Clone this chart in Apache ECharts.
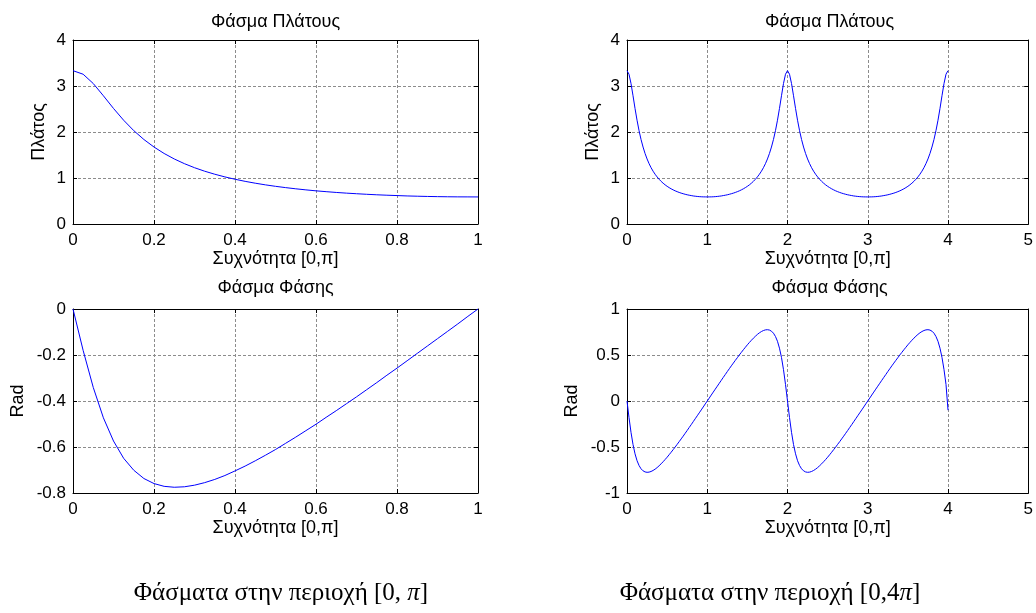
<!DOCTYPE html>
<html>
<head>
<meta charset="utf-8">
<script src="https://cdn.jsdelivr.net/npm/echarts@6/dist/echarts.min.js"></script>
<style>
html,body{margin:0;padding:0;background:#fff;}
#chart{width:1036px;height:613px;}
</style>
</head>
<body>
<div id="chart"></div>
<script>
// ---- data ----
// Left plots: frequency in units of π, 0..1 step 0.025
const leftMag = [3.333,3.256,3.054,2.788,2.512,2.256,2.030,1.837,1.673,1.533,1.414,1.312,1.224,1.148,1.082,1.024,0.973,0.927,0.887,0.851,0.819,0.791,0.765,0.742,0.721,0.703,0.686,0.671,0.658,0.646,0.635,0.626,0.618,0.610,0.604,0.599,0.595,0.592,0.590,0.589,0.588];
const leftPhase = [0,-0.180,-0.341,-0.473,-0.574,-0.649,-0.701,-0.737,-0.759,-0.771,-0.775,-0.773,-0.766,-0.755,-0.741,-0.724,-0.704,-0.683,-0.660,-0.636,-0.611,-0.584,-0.557,-0.529,-0.501,-0.471,-0.442,-0.412,-0.382,-0.351,-0.320,-0.288,-0.257,-0.225,-0.193,-0.161,-0.129,-0.097,-0.065,-0.032,0];
// Right plots: frequency in units of π, 0..4 step 0.025
const rightMag = [
3.333,3.256,3.054,2.788,2.512,2.256,2.030,1.837,1.673,1.533,1.414,1.312,1.224,1.148,1.082,1.024,0.973,0.927,0.887,0.851,0.819,0.791,0.765,0.742,0.721,0.703,0.686,0.671,0.658,0.646,0.635,0.626,0.618,0.610,0.604,0.599,0.595,0.592,0.590,0.589,0.588,
0.589,0.590,0.592,0.595,0.599,0.604,0.610,0.618,0.626,0.635,0.646,0.658,0.671,0.686,0.703,0.721,0.742,0.765,0.791,0.819,0.851,0.887,0.927,0.973,1.024,1.082,1.148,1.224,1.312,1.414,1.533,1.673,1.837,2.030,2.256,2.512,2.788,3.054,3.256,3.333,
3.256,3.054,2.788,2.512,2.256,2.030,1.837,1.673,1.533,1.414,1.312,1.224,1.148,1.082,1.024,0.973,0.927,0.887,0.851,0.819,0.791,0.765,0.742,0.721,0.703,0.686,0.671,0.658,0.646,0.635,0.626,0.618,0.610,0.604,0.599,0.595,0.592,0.590,0.589,0.588,
0.589,0.590,0.592,0.595,0.599,0.604,0.610,0.618,0.626,0.635,0.646,0.658,0.671,0.686,0.703,0.721,0.742,0.765,0.791,0.819,0.851,0.887,0.927,0.973,1.024,1.082,1.148,1.224,1.312,1.414,1.533,1.673,1.837,2.030,2.256,2.512,2.788,3.054,3.256,3.333];
const rightPhase = [
0,-0.180,-0.341,-0.473,-0.574,-0.649,-0.701,-0.737,-0.759,-0.771,-0.775,-0.773,-0.766,-0.755,-0.741,-0.724,-0.704,-0.683,-0.660,-0.636,-0.611,-0.584,-0.557,-0.529,-0.501,-0.471,-0.442,-0.412,-0.382,-0.351,-0.320,-0.288,-0.257,-0.225,-0.193,-0.161,-0.129,-0.097,-0.065,-0.032,0,
0.032,0.065,0.097,0.129,0.161,0.193,0.225,0.257,0.288,0.320,0.351,0.382,0.412,0.442,0.471,0.501,0.529,0.557,0.584,0.611,0.636,0.660,0.683,0.704,0.724,0.741,0.755,0.766,0.773,0.775,0.771,0.759,0.737,0.701,0.649,0.574,0.473,0.341,0.180,0,
-0.180,-0.341,-0.473,-0.574,-0.649,-0.701,-0.737,-0.759,-0.771,-0.775,-0.773,-0.766,-0.755,-0.741,-0.724,-0.704,-0.683,-0.660,-0.636,-0.611,-0.584,-0.557,-0.529,-0.501,-0.471,-0.442,-0.412,-0.382,-0.351,-0.320,-0.288,-0.257,-0.225,-0.193,-0.161,-0.129,-0.097,-0.065,-0.032,0,
0.032,0.065,0.097,0.129,0.161,0.193,0.225,0.257,0.288,0.320,0.351,0.382,0.412,0.442,0.471,0.501,0.529,0.557,0.584,0.611,0.636,0.660,0.683,0.704,0.724,0.741,0.755,0.766,0.773,0.775,0.771,0.759,0.737,0.701,0.649,0.574,0.473,0.341,0.180,-0.1];
const leftStep = 0.025, rightStep = 0.025;

const titleMag = 'Φάσμα Πλάτους';
const titlePhase = 'Φάσμα Φάσης';
const xName = 'Συχνότητα [0,π]';
const yNameMag = 'Πλάτος';
const yNamePhase = 'Rad';
const captionLeft = ['Φάσματα στην περιοχή [0, ', 'π', ']'];
const captionRight = ['Φάσματα στην περιοχή [0,4', 'π', ']'];

// ---- chart ----
const FONT = 'Liberation Sans, Arial, sans-serif';
const TICK_FS = 17, NAME_FS = 18, TITLE_FS = 18;

const grids = [
  {left:73, top:40, width:405, height:184},
  {left:73, top:309, width:405, height:184},
  {left:627, top:40, width:405, height:184},
  {left:627, top:309, width:405, height:184}
];
const axisSpec = [
  {xmin:0, xmax:1, xint:0.2, ymin:0, ymax:4, yint:1, yname:yNameMag, ygap:25, title:titleMag},
  {xmin:0, xmax:1, xint:0.2, ymin:-0.8, ymax:0, yint:0.2, yname:yNamePhase, ygap:46, title:titlePhase},
  {xmin:0, xmax:5, xint:1, ymin:0, ymax:4, yint:1, yname:yNameMag, ygap:25, title:titleMag},
  {xmin:0, xmax:5, xint:1, ymin:-1, ymax:1, yint:0.5, yname:yNamePhase, ygap:46, title:titlePhase}
];
const fmt = v => String(Math.round(v*100)/100);
const lineBlack = {show:true, onZero:false, lineStyle:{color:'#000', width:1}};
const tickIn = {show:true, inside:true, length:4, lineStyle:{color:'#000', width:1}};
const gridLine = {show:true, lineStyle:{color:'#8c8c8c', width:1, type:[3,2]}};

const xAxes = [], yAxes = [];
axisSpec.forEach((s, i) => {
  xAxes.push({type:'value', gridIndex:i, position:'bottom', min:s.xmin, max:s.xmax, interval:s.xint,
    axisLine:lineBlack, axisTick:tickIn, splitLine:gridLine,
    axisLabel:{color:'#000', fontSize:TICK_FS, fontFamily:FONT, margin:8, formatter:fmt},
    name:xName, nameLocation:'middle', nameGap:26,
    nameTextStyle:{color:'#000', fontSize:NAME_FS, fontFamily:FONT}});
  xAxes.push({type:'value', gridIndex:i, position:'top', min:s.xmin, max:s.xmax, interval:s.xint,
    axisLine:lineBlack, axisTick:tickIn, splitLine:{show:false}, axisLabel:{show:false}});
  yAxes.push({type:'value', gridIndex:i, position:'left', min:s.ymin, max:s.ymax, interval:s.yint,
    axisLine:lineBlack, axisTick:tickIn, splitLine:gridLine,
    axisLabel:{color:'#000', fontSize:TICK_FS, fontFamily:FONT, margin:7, formatter:fmt},
    name:s.yname, nameLocation:'middle', nameRotate:90, nameGap:s.ygap,
    nameTextStyle:{color:'#000', fontSize:NAME_FS, fontFamily:FONT}});
  yAxes.push({type:'value', gridIndex:i, position:'right', min:s.ymin, max:s.ymax, interval:s.yint,
    axisLine:lineBlack, axisTick:tickIn, splitLine:{show:false}, axisLabel:{show:false}});
});

const toPairs = (arr, step) => arr.map((v, k) => [k*step, v]);
const seriesData = [toPairs(leftMag, leftStep), toPairs(leftPhase, leftStep), toPairs(rightMag, rightStep), toPairs(rightPhase, rightStep)];
const series = seriesData.map((d, i) => ({
  type:'line', xAxisIndex:2*i, yAxisIndex:2*i, data:d, showSymbol:false, symbol:'none',
  lineStyle:{color:'#0000ff', width:1}, clip:false, animation:false
}));

const graphics = [];
grids.forEach((g, i) => {
  graphics.push({type:'text', x:g.left + g.width/2, y:(i%2===0) ? 22 : 288,
    style:{text:axisSpec[i].title, fill:'#000', font:TITLE_FS+'px '+FONT, textAlign:'center', textVerticalAlign:'middle'}});
});
function caption(parts, cx) {
  return {type:'text', x:cx, y:593, style:{
    text:'{a|'+parts[0]+'}{b|'+parts[1]+'}{a|'+parts[2]+'}',
    textAlign:'center', textVerticalAlign:'middle',
    rich:{a:{fontFamily:'Liberation Serif, serif', fontSize:25, fill:'#000', color:'#000'},
          b:{fontFamily:'Liberation Serif, serif', fontSize:25, fontStyle:'italic', fill:'#000', color:'#000'}}
  }};
}
graphics.push(caption(captionLeft, 281));
graphics.push(caption(captionRight, 770));

const chart = echarts.init(document.getElementById('chart'), null, {renderer:'canvas'});
chart.setOption({
  animation:false,
  backgroundColor:'#fff',
  grid:grids,
  xAxis:xAxes,
  yAxis:yAxes,
  series:series,
  graphic:graphics
});
</script>
</body>
</html>
